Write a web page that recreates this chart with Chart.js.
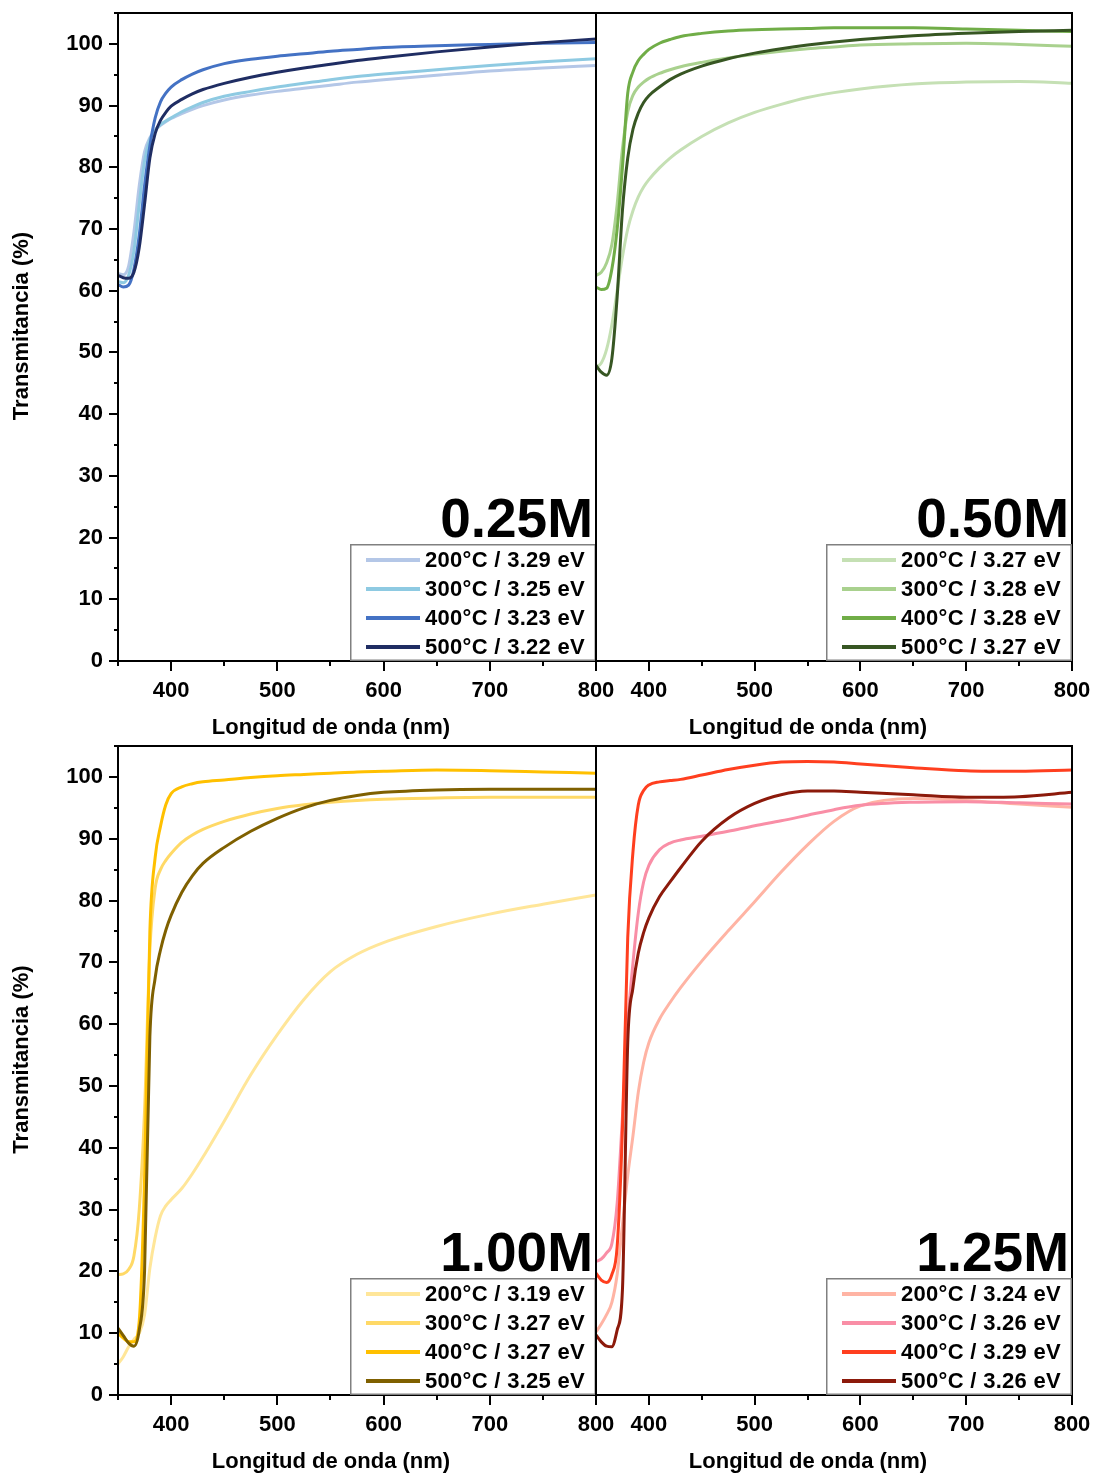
<!DOCTYPE html>
<html>
<head>
<meta charset="utf-8">
<script src="https://cdn.jsdelivr.net/npm/chart.js@4"></script>
<style>
  html, body { margin: 0; padding: 0; background: #ffffff; }
  #wrap { position: relative; width: 1094px; height: 1476px; background: #ffffff; }
  canvas { position: absolute; }
</style>
</head>
<body>
<div id="wrap">
  <canvas id="p025" width="620" height="745" style="left:0;top:0"></canvas>
  <canvas id="p050" width="514" height="745" style="left:580px;top:0"></canvas>
  <canvas id="p100" width="620" height="746" style="left:0;top:730px"></canvas>
  <canvas id="p125" width="514" height="746" style="left:580px;top:730px"></canvas>
</div>
<script>
// Wavelength grid (nm) shared by every transmittance curve
const wavelengths = [350, 355, 360, 365, 370, 375, 380, 385, 390, 395, 400, 410, 420, 430, 450, 475, 500, 525, 550, 575, 600, 650, 700, 750, 800];

// Axis ticks
const xTickLabels = [400, 500, 600, 700, 800];
const yTickLabels = [0, 10, 20, 30, 40, 50, 60, 70, 80, 90, 100];

// Annealing temperatures and band gaps per concentration
const temperatures = ['200°C', '300°C', '400°C', '500°C'];
const gaps025 = ['3.29', '3.25', '3.23', '3.22'];
const gaps050 = ['3.27', '3.28', '3.28', '3.27'];
const gaps100 = ['3.19', '3.27', '3.27', '3.25'];
const gaps125 = ['3.24', '3.26', '3.29', '3.26'];

// Transmittance (%) — 0.25M
const t025_200 = [62.8, 62.6, 64.0, 69.5, 77.0, 82.5, 84.8, 86.0, 86.8, 87.4, 87.9, 88.7, 89.4, 90.0, 90.9, 91.7, 92.3, 92.8, 93.3, 93.8, 94.2, 94.9, 95.6, 96.1, 96.5];
const t025_300 = [61.5, 61.3, 62.5, 66.5, 74.0, 81.0, 84.5, 86.0, 86.9, 87.5, 88.0, 89.0, 89.8, 90.5, 91.5, 92.3, 93.0, 93.6, 94.2, 94.7, 95.1, 95.8, 96.5, 97.1, 97.6];
const t025_400 = [61.0, 60.6, 60.9, 63.5, 69.0, 77.0, 83.5, 88.0, 90.6, 92.0, 93.0, 94.2, 95.1, 95.8, 96.8, 97.5, 98.0, 98.4, 98.8, 99.1, 99.4, 99.7, 99.9, 100.1, 100.2];
const t025_500 = [62.5, 62.1, 62.0, 63.0, 67.0, 74.0, 81.5, 85.5, 87.6, 88.9, 89.9, 91.0, 91.9, 92.6, 93.6, 94.6, 95.4, 96.1, 96.7, 97.3, 97.8, 98.7, 99.5, 100.2, 100.8];

// Transmittance (%) — 0.50M
const t050_200 = [47.6, 48.3, 50.5, 54.5, 60.0, 65.5, 70.0, 73.0, 75.2, 76.8, 78.0, 79.9, 81.5, 82.8, 85.0, 87.2, 88.9, 90.2, 91.3, 92.1, 92.7, 93.5, 93.8, 93.9, 93.6];
const t050_300 = [62.5, 63.0, 64.5, 67.5, 74.0, 83.0, 89.0, 91.7, 93.0, 93.8, 94.4, 95.2, 95.8, 96.3, 97.0, 97.7, 98.3, 98.8, 99.2, 99.5, 99.8, 100.0, 100.1, 99.9, 99.6];
const t050_400 = [60.6, 60.2, 60.4, 63.5, 70.0, 80.0, 92.0, 95.5, 97.3, 98.3, 99.1, 100.1, 100.7, 101.2, 101.7, 102.1, 102.3, 102.4, 102.5, 102.6, 102.6, 102.6, 102.4, 102.2, 102.0];
const t050_500 = [47.9, 46.8, 46.3, 49.0, 59.0, 73.0, 81.5, 86.2, 88.8, 90.5, 91.6, 93.0, 94.2, 95.1, 96.4, 97.6, 98.5, 99.2, 99.8, 100.3, 100.7, 101.3, 101.7, 102.0, 102.2];

// Transmittance (%) — 1.00M
const t100_200 = [5.0, 6.2, 7.8, 9.0, 10.0, 13.0, 20.5, 25.5, 29.0, 30.6, 31.6, 33.4, 35.8, 38.5, 44.3, 51.8, 58.3, 64.0, 68.5, 71.3, 73.2, 75.8, 77.8, 79.4, 80.9];
const t100_300 = [19.5, 19.6, 20.3, 22.5, 30.0, 46.0, 72.0, 82.0, 85.0, 86.5, 87.6, 89.4, 90.6, 91.5, 92.8, 94.0, 94.9, 95.5, 95.9, 96.2, 96.4, 96.6, 96.7, 96.7, 96.7];
const t100_400 = [10.0, 9.2, 8.6, 8.6, 12.0, 35.0, 75.0, 87.0, 92.0, 95.5, 97.3, 98.4, 98.9, 99.2, 99.5, 99.9, 100.2, 100.4, 100.6, 100.8, 100.9, 101.1, 101.0, 100.8, 100.6];
const t100_500 = [10.8, 9.6, 8.4, 7.9, 10.5, 20.0, 58.0, 67.5, 72.0, 75.2, 77.6, 81.3, 84.0, 86.0, 88.6, 91.2, 93.3, 95.0, 96.2, 97.0, 97.5, 97.9, 98.0, 98.0, 98.0];

// Transmittance (%) — 1.25M
const t125_200 = [10.2, 11.5, 13.0, 15.0, 19.5, 27.5, 35.5, 42.0, 49.0, 53.8, 57.0, 60.8, 63.5, 65.9, 70.2, 75.1, 79.8, 84.6, 89.0, 92.8, 95.3, 96.5, 96.2, 95.6, 95.1];
const t125_300 = [21.6, 22.0, 23.0, 24.5, 31.0, 45.0, 60.0, 70.0, 78.0, 83.0, 85.7, 88.2, 89.3, 89.8, 90.4, 91.2, 92.1, 92.9, 93.8, 94.7, 95.4, 95.9, 96.0, 95.8, 95.6];
const t125_400 = [19.7, 18.6, 18.2, 19.5, 24.0, 43.0, 74.0, 88.0, 95.5, 97.8, 98.7, 99.2, 99.4, 99.6, 100.3, 101.2, 101.9, 102.4, 102.5, 102.4, 102.1, 101.5, 101.0, 100.9, 101.1];
const t125_500 = [9.7, 8.6, 7.9, 7.8, 10.5, 17.0, 57.0, 66.0, 71.5, 74.8, 77.2, 80.6, 83.0, 85.3, 89.6, 93.3, 95.7, 97.1, 97.7, 97.7, 97.5, 97.1, 96.7, 96.8, 97.5];

// Line colours per concentration (200, 300, 400, 500 °C)
const blues   = ['#b4c7e7', '#8ecae2', '#4472c4', '#1f2d63'];
const greens  = ['#c5e0b4', '#a9d18e', '#70ad47', '#375623'];
const golds   = ['#ffe699', '#ffd966', '#ffc000', '#7f6000'];
const reds    = ['#ffb4a4', '#f98ea6', '#ff3f1f', '#8c1a0b'];

const FONT = "'Liberation Sans', Arial, sans-serif";

// Frame, tick marks, axis titles, concentration tag and legend box
const panelDecor = {
  id: 'panelDecor',
  afterDraw(chart, args, opts) {
    const ctx = chart.ctx;
    const a = chart.chartArea;
    const xs = chart.scales.x, ys = chart.scales.y;
    ctx.save();

    // tick marks (outward)
    ctx.strokeStyle = '#000';
    ctx.lineWidth = 2;
    ctx.beginPath();
    for (let v = 350; v <= 800; v += 50) {
      const px = Math.round(xs.getPixelForValue(v));
      const len = v % 100 === 0 ? 10 : 5;
      ctx.moveTo(px, a.bottom);
      ctx.lineTo(px, a.bottom + len);
    }
    if (opts.yAxis) {
      for (let v = 0; v <= 105; v += 5) {
        const py = Math.round(ys.getPixelForValue(v));
        const len = v % 10 === 0 ? 9 : 4;
        ctx.moveTo(a.left, py);
        ctx.lineTo(a.left - len, py);
      }
    }
    ctx.stroke();

    // frame
    ctx.lineWidth = 2;
    ctx.strokeStyle = '#000';
    ctx.strokeRect(a.left, a.top, a.right - a.left, a.bottom - a.top);

    // axis titles
    ctx.fillStyle = '#000';
    ctx.font = 'bold 22px ' + FONT;
    ctx.textAlign = 'center';
    ctx.textBaseline = 'middle';
    ctx.fillText('Longitud de onda (nm)', (a.left + a.right) / 2 - 26, a.bottom + 67);
    if (opts.yAxis) {
      ctx.save();
      ctx.translate(a.left - 96, (a.top + a.bottom) / 2 - 11);
      ctx.rotate(-Math.PI / 2);
      ctx.fillText('Transmitancia (%)', 0, 0);
      ctx.restore();
    }

    // legend box in the lower-right corner
    const bw = 246, bh = 117;
    const bx = a.right - bw, by = a.bottom - bh;
    ctx.fillStyle = '#fff';
    ctx.fillRect(bx, by, bw, bh);
    ctx.strokeStyle = '#808080';
    ctx.lineWidth = 1.5;
    ctx.strokeRect(bx + 0.75, by + 0.75, bw - 1.5, bh - 1.5);
    ctx.font = 'bold 22px ' + FONT;
    ctx.textAlign = 'left';
    ctx.textBaseline = 'middle';
    if ('letterSpacing' in ctx) ctx.letterSpacing = '0.3px';
    chart.data.datasets.forEach((ds, i) => {
      const ry = by + 16 + i * 29;
      ctx.strokeStyle = ds.borderColor;
      ctx.lineWidth = 4;
      ctx.beginPath();
      ctx.moveTo(bx + 16, ry);
      ctx.lineTo(bx + 70, ry);
      ctx.stroke();
      ctx.fillStyle = '#000';
      ctx.fillText(ds.label, bx + 75, ry + 1);
    });
    if ('letterSpacing' in ctx) ctx.letterSpacing = '0px';

    // concentration tag
    ctx.font = 'bold 55px ' + FONT;
    ctx.textAlign = 'right';
    ctx.textBaseline = 'alphabetic';
    ctx.fillStyle = '#000';
    ctx.fillText(opts.tag, a.right - 3, by - 7);

    // re-draw the left border over the curves' start
    ctx.strokeStyle = '#000';
    ctx.lineWidth = 2;
    ctx.beginPath();
    ctx.moveTo(a.left, a.top);
    ctx.lineTo(a.left, a.bottom);
    ctx.stroke();
    ctx.restore();
  }
};

function makeDatasets(series, colours, gaps) {
  return series.map((vals, i) => ({
    label: temperatures[i] + ' / ' + gaps[i] + ' eV',
    data: wavelengths.map((w, k) => ({ x: w, y: vals[k] })),
    borderColor: colours[i],
    backgroundColor: colours[i],
    borderWidth: 3,
    pointRadius: 0,
    cubicInterpolationMode: 'monotone',
    order: 3 - i
  }));
}

// scale label overhang is handled by the layout padding below
function noScalePadding(s) {
  s.paddingLeft = 0; s.paddingRight = 0; s.paddingTop = 0; s.paddingBottom = 0;
}

function makePanel(id, series, colours, gaps, tag, leftSide, top) {
  const padTop = top ? 13 : 16;
  const xHeight = top ? 84 : 81;
  return new Chart(document.getElementById(id), {
    type: 'line',
    data: { datasets: makeDatasets(series, colours, gaps) },
    options: {
      responsive: false,
      animation: false,
      devicePixelRatio: 1,
      layout: { autoPadding: false, padding: { top: padTop, left: leftSide ? 0 : 16, right: leftSide ? 24 : 22, bottom: 0 } },
      plugins: {
        legend: { display: false },
        tooltip: { enabled: false },
        panelDecor: { tag: tag, yAxis: leftSide }
      },
      scales: {
        x: {
          type: 'linear',
          min: 350,
          max: 800,
          afterBuildTicks: (s) => { s.ticks = xTickLabels.map(v => ({ value: v })); },
          afterFit: (s) => { s.height = xHeight; noScalePadding(s); },
          grid: { display: false, drawTicks: false },
          border: { display: false },
          ticks: {
            autoSkip: false,
            maxRotation: 0,
            padding: 17,
            color: '#000',
            font: { family: FONT, size: 22, weight: 'bold' }
          }
        },
        y: {
          type: 'linear',
          min: 0,
          max: 105,
          display: leftSide,
          afterBuildTicks: (s) => { s.ticks = yTickLabels.map(v => ({ value: v })); },
          afterFit: (s) => { s.width = leftSide ? 118 : 0; noScalePadding(s); },
          grid: { display: false, drawTicks: false },
          border: { display: false },
          ticks: {
            padding: 15,
            color: '#000',
            font: { family: FONT, size: 22, weight: 'bold' }
          }
        }
      }
    },
    plugins: [panelDecor]
  });
}

makePanel('p025', [t025_200, t025_300, t025_400, t025_500], blues, gaps025, '0.25M', true, true);
makePanel('p050', [t050_200, t050_300, t050_400, t050_500], greens, gaps050, '0.50M', false, true);
makePanel('p100', [t100_200, t100_300, t100_400, t100_500], golds, gaps100, '1.00M', true, false);
makePanel('p125', [t125_200, t125_300, t125_400, t125_500], reds, gaps125, '1.25M', false, false);
</script>
</body>
</html>
